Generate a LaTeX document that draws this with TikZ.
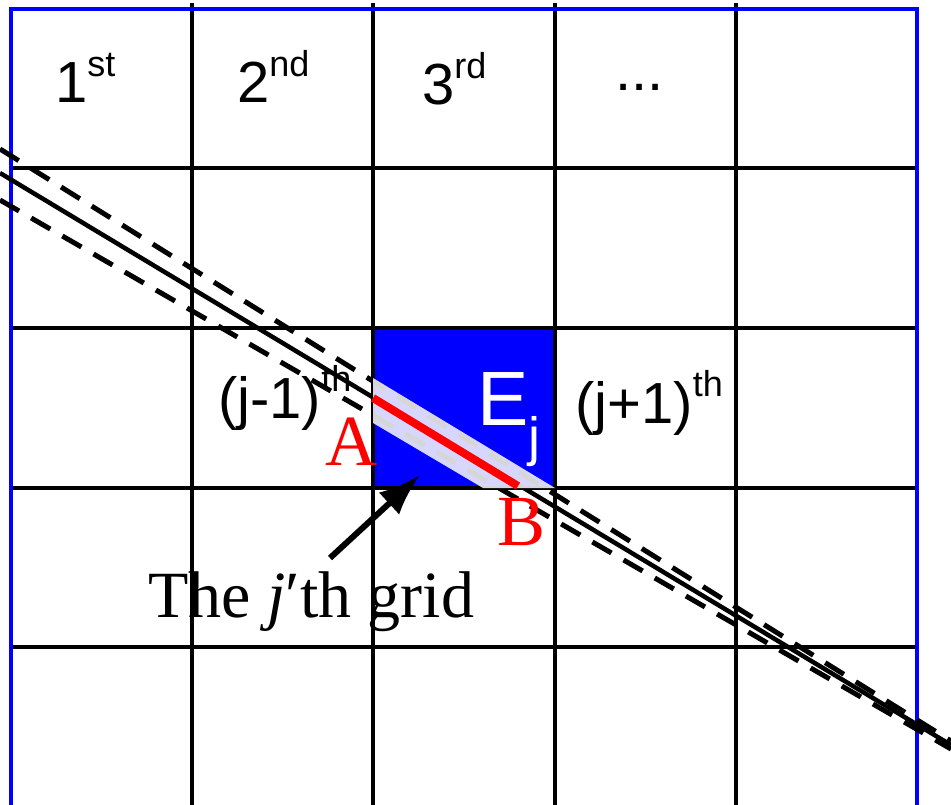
\documentclass[tikz,border=0pt]{standalone}
\usepackage{fontspec}
\setmainfont{Liberation Serif}
\setsansfont{Liberation Sans}
\usetikzlibrary{arrows.meta}
\definecolor{gridblue}{RGB}{0,0,255}
\newcommand{\ordsup}[1]{\raisebox{0.45em}{\fontsize{36}{36}\selectfont #1}}

\begin{document}
\begin{tikzpicture}[x=1pt, y=-1pt, every node/.style={inner sep=0pt},
  colhead/.style={anchor=base west, font=\sffamily\fontsize{58}{60}\selectfont},
  ptlabel/.style={anchor=base west, text=red, font=\fontsize{72}{72}\selectfont},
  gridline/.style={line width=3.5pt},
  beamedge/.style={line width=5pt, dash pattern=on 22pt off 14pt}]
  \useasboundingbox (0,0) rectangle (951,805);
  \clip (0,0) rectangle (951,805);
  % cells
  \fill[gridblue] (373,328) rectangle (555,488);
  \foreach \x in {192,373,555,736}
    \draw[gridline] (\x,3) -- (\x,805);
  \foreach \y in {168,328,488,647}
    \draw[gridline] (11,\y) -- (917,\y);
  \draw[gridline, gridblue] (11,805) -- (11,9) -- (917,9) -- (917,805);
  \node[colhead] (first) at (55,103) {1\ordsup{st}};
  \node[colhead] (second) at (237,103) {2\ordsup{nd}};
  \node[colhead] (third) at (422,105) {3\ordsup{rd}};
  \node[colhead] (more) at (615,91) {...};
  \node[colhead] (prev) at (218,418) {(j-1)\ordsup{th}};
  \node[colhead] (next) at (575,423) {(j+1)\ordsup{th}};
  \node[anchor=base west, text=white, font=\sffamily\fontsize{77}{77}\selectfont] (ej) at (477,425) {E\textsubscript{j}};
  % ray
  \coordinate (rayL) at (0,173);
  \coordinate (rayR) at (951,745);
  \coordinate (upL) at (0,149);
  \coordinate (upR) at (951,741);
  \coordinate (loL) at (0,200);
  \coordinate (loR) at (951,749);
  \draw[line width=4.5pt] (rayL) -- (rayR);
  \draw[beamedge] (upL) -- (upR);
  \draw[beamedge] (loL) -- (loR);
  \fill[white, opacity=0.84] (373,378) -- (555,488) -- (483,488) -- (373,423) -- cycle;
  \coordinate (ptA) at (373,398);
  \coordinate (ptB) at (518,486);
  \draw[red, line width=8pt] (ptA) -- (ptB);
  \node[ptlabel] (A) at (325,465) {A};
  \node[ptlabel] (B) at (497,545) {B};
  \node[anchor=base west, font=\fontsize{66}{66}\selectfont] (caption) at (148,617) {The \textit{j}′th grid};
  \coordinate (tail) at (330,558);
  \coordinate (tip) at (420,475);
  \draw[line width=6pt, -{Latex[length=42pt,width=30pt]}] (tail) -- (tip);
\end{tikzpicture}
\end{document}
